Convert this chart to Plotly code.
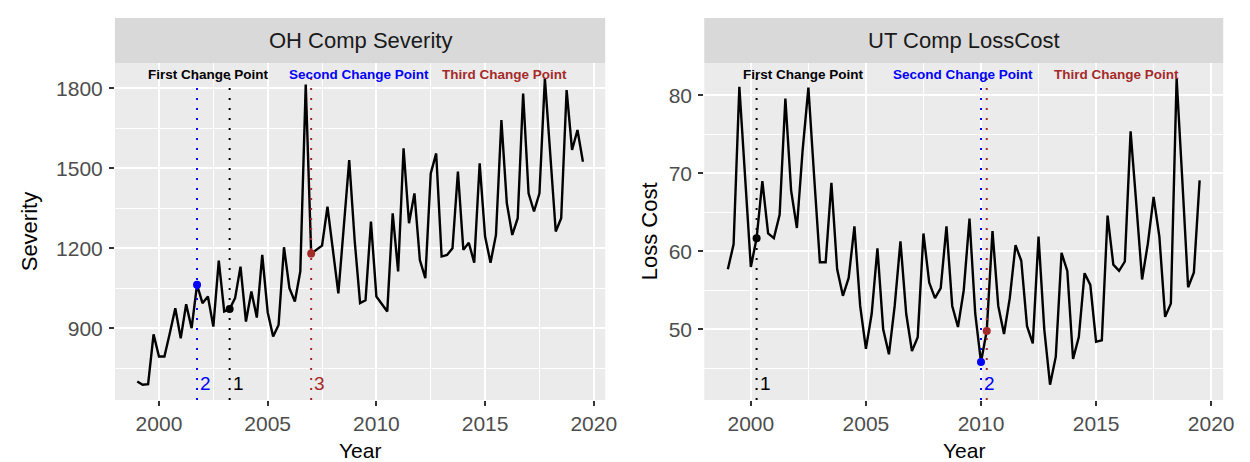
import plotly.graph_objects as go

# ---------------- data ----------------
start_year = 1999.0
n_quarters = 83
years = [start_year + 0.25 * i for i in range(n_quarters)]

oh_severity = [
    700, 688, 690, 877,
    794, 794, 882, 975,
    862, 990, 900, 1063,
    994, 1019, 906, 1154,
    963, 972, 1013, 1131,
    925, 1038, 940, 1175,
    960, 869, 912, 1204,
    1050, 1000, 1113, 1815,
    1180, 1195, 1210, 1356,
    1190, 1031, 1280, 1531,
    1230, 994, 1005, 1300,
    1019, 990, 963, 1331,
    1113, 1575, 1294, 1406,
    1156, 1088, 1481, 1556,
    1169, 1175, 1200, 1488,
    1194, 1221, 1146, 1519,
    1244, 1146, 1250, 1681,
    1369, 1250, 1313, 1781,
    1406, 1338, 1406, 1838,
    1550, 1263, 1313, 1794,
    1569, 1644, 1525,
]

ut_losscost = [
    57.7, 60.9, 81.1, 70.0,
    58.0, 61.7, 69.0, 62.3,
    61.7, 64.7, 79.6, 67.8,
    63.0, 73.0, 81.0, 69.6,
    58.6, 58.6, 68.8, 57.7,
    54.3, 56.6, 63.2, 53.0,
    47.5, 52.0, 60.4, 50.0,
    46.8, 53.0, 61.3, 52.0,
    47.2, 49.0, 62.3, 56.0,
    54.0, 55.3, 63.2, 53.0,
    50.3, 55.0, 64.2, 52.0,
    45.8, 49.8, 62.6, 53.0,
    49.4, 54.0, 60.8, 58.8,
    50.4, 48.2, 61.9, 50.0,
    42.9, 46.5, 59.8, 57.5,
    46.2, 49.0, 57.2, 55.7,
    48.4, 48.6, 64.6, 58.3,
    57.5, 58.7, 75.4, 66.0,
    56.4, 61.0, 67.0, 61.9,
    51.6, 53.3, 82.2, 69.0,
    55.4, 57.3, 69.1,
]

change_names = ["First Change Point", "Second Change Point", "Third Change Point"]
change_colors = ["black", "blue", "#A52A2A"]
change_label_x = [2002.3, 2009.2, 2015.9]

oh_change = [2003.25, 2001.75, 2007.0]
oh_change_labels = ["1", "2", "3"]
ut_change = [2000.25, 2010.0, 2010.25]
ut_change_labels = ["1", "2", ""]

x_ticks = [2000, 2005, 2010, 2015, 2020]
oh_y_ticks = [900, 1200, 1500, 1800]
ut_y_ticks = [50, 60, 70, 80]

panels = [
    dict(title="OH Comp Severity", ytitle="Severity", y=oh_severity,
         cps=oh_change, cplab=oh_change_labels, yticks=oh_y_ticks,
         ydtick=150, ytick0=900, xdom=(108, 603), ytitle_x=22),
    dict(title="UT Comp LossCost", ytitle="Loss Cost", y=ut_losscost,
         cps=ut_change, cplab=ut_change_labels, yticks=ut_y_ticks,
         ydtick=5, ytick0=50, xdom=(703, 1227), ytitle_x=648),
]

# ---------------- layout constants ----------------
W, H = 1250, 462
panel_top, panel_bot = 55, 392
strip_top = 10
ydom = [1 - panel_bot / H, 1 - panel_top / H]
FONT = "Liberation Sans, Arial"

fig = go.Figure()
annotations = []
shapes = []
layout_axes = {}

def expand(vals, frac=0.05):
    lo, hi = min(vals), max(vals)
    pad = (hi - lo) * frac
    return [lo - pad, hi + pad]

xr = expand(years)

for i, p in enumerate(panels):
    k = "" if i == 0 else str(i + 1)
    xa, ya = "x" + k, "y" + k
    yr = expand(p["y"])
    xd = [p["xdom"][0] / W, p["xdom"][1] / W]

    # main series
    fig.add_trace(go.Scatter(x=years, y=p["y"], mode="lines",
                             line=dict(color="black", width=2.4),
                             xaxis=xa, yaxis=ya, showlegend=False,
                             hoverinfo="skip"))
    ymax = max(p["y"])
    for cp, col, lab in zip(p["cps"], change_colors, p["cplab"]):
        fig.add_trace(go.Scatter(x=[cp, cp], y=[yr[0], ymax], mode="lines",
                                 line=dict(color=col, width=2, dash="2px,8px"),
                                 xaxis=xa, yaxis=ya, showlegend=False,
                                 hoverinfo="skip"))
        idx = years.index(cp)
        fig.add_trace(go.Scatter(x=[cp], y=[p["y"][idx]], mode="markers",
                                 marker=dict(color=col, size=8),
                                 xaxis=xa, yaxis=ya, showlegend=False,
                                 hoverinfo="skip"))
        if lab:
            annotations.append(dict(x=cp, y=0.05, xref=xa, yref=ya + " domain",
                                    text=lab, showarrow=False, xanchor="left",
                                    xshift=1, yanchor="middle",
                                    font=dict(size=19, color=col, family=FONT)))
    for name, col, lx in zip(change_names, change_colors, change_label_x):
        annotations.append(dict(x=lx, y=1 - 11 / (panel_bot - panel_top),
                                xref=xa, yref=ya + " domain", text="<b>" + name + "</b>",
                                showarrow=False, xanchor="center", yanchor="middle",
                                font=dict(size=13.5, color=col, family=FONT)))

    # strip
    shapes.append(dict(type="rect", xref="paper", yref="paper",
                       x0=xd[0], x1=xd[1], y0=ydom[1], y1=1 - strip_top / H,
                       fillcolor="#D9D9D9", line=dict(width=0), layer="below"))
    annotations.append(dict(x=(xd[0] + xd[1]) / 2, y=1 - (strip_top + panel_top) / 2 / H,
                            xref="paper", yref="paper", text=p["title"], showarrow=False,
                            xanchor="center", yanchor="middle",
                            font=dict(size=22, color="#1A1A1A", family=FONT)))
    # axis titles
    annotations.append(dict(x=(xd[0] + xd[1]) / 2, y=1 - 442 / H, xref="paper",
                            yref="paper", text="Year", showarrow=False,
                            xanchor="center", yanchor="middle",
                            font=dict(size=21, color="black", family=FONT)))
    annotations.append(dict(x=p["ytitle_x"] / W, y=(ydom[0] + ydom[1]) / 2, xref="paper",
                            yref="paper", text=p["ytitle"], showarrow=False,
                            textangle=-90, xanchor="center", yanchor="middle",
                            font=dict(size=22, color="black", family=FONT)))

    axis_common = dict(showline=False, zeroline=False, ticks="outside", ticklen=5,
                       tickwidth=1.5, tickcolor="#333333", showgrid=True,
                       gridcolor="white", gridwidth=1.6,
                       tickfont=dict(size=21, color="#4D4D4D", family=FONT))
    layout_axes["xaxis" + k] = dict(axis_common, domain=xd, range=xr, anchor=ya,
                                    tickmode="array", tickvals=x_ticks,
                                    minor=dict(dtick=2.5, tick0=2000, showgrid=True,
                                               gridcolor="white", gridwidth=0.8,
                                               ticks=""))
    layout_axes["yaxis" + k] = dict(axis_common, domain=ydom, range=yr, anchor=xa,
                                    tickmode="array", tickvals=p["yticks"],
                                    ticklabelstandoff=2,
                                    minor=dict(dtick=p["ydtick"], tick0=p["ytick0"],
                                               showgrid=True, gridcolor="white",
                                               gridwidth=0.8, ticks=""))

fig.update_layout(width=W, height=H, margin=dict(l=0, r=0, t=0, b=0),
                  paper_bgcolor="white", plot_bgcolor="#EBEBEB",
                  annotations=annotations, shapes=shapes, showlegend=False,
                  font=dict(family=FONT), **layout_axes)

fig.write_html("out.html")
